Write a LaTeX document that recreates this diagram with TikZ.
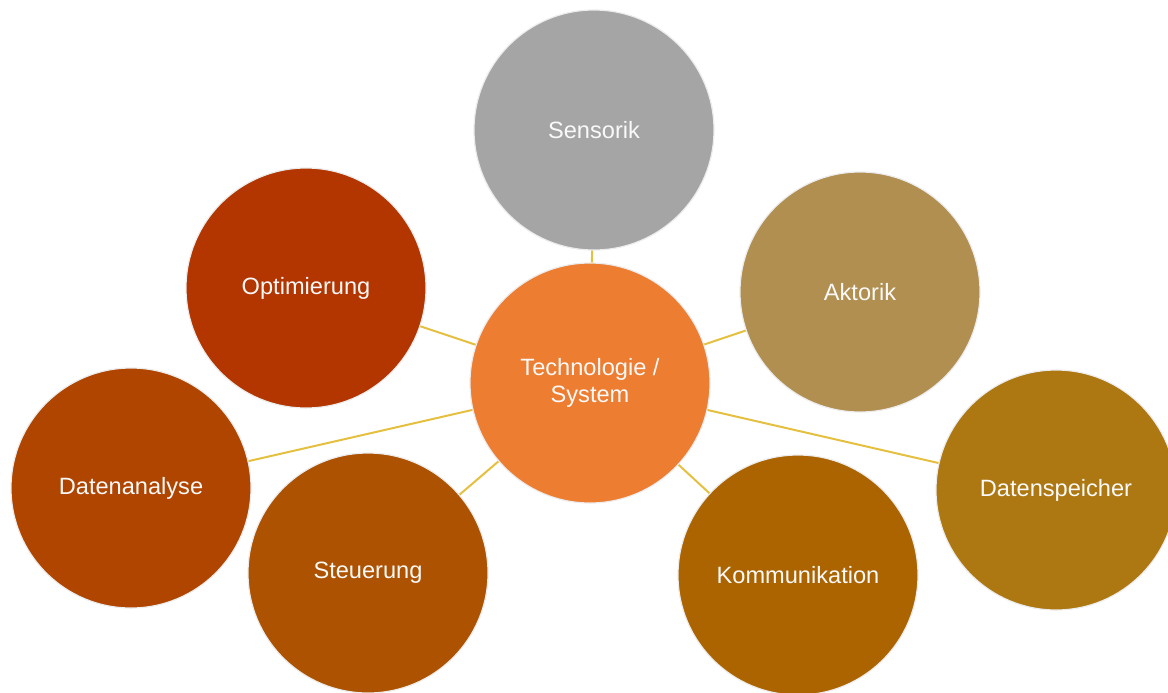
\documentclass[tikz,border=0pt]{standalone}
\usepackage{fontspec}
\setmainfont{Liberation Sans}
\usetikzlibrary{backgrounds}

\definecolor{coreorange}{HTML}{ED7D31}
\definecolor{sensgray}{HTML}{A5A5A5}
\definecolor{aktbrown}{HTML}{B08F50}
\definecolor{speichgold}{HTML}{AD7811}
\definecolor{kommbrown}{HTML}{AB6400}
\definecolor{steuerbrown}{HTML}{AD5200}
\definecolor{analysered}{HTML}{B04500}
\definecolor{optired}{HTML}{B33500}
\definecolor{linkyellow}{HTML}{E5C040}

\begin{document}
\begin{tikzpicture}[x=0.5pt, y=-0.5pt, main node/.style={circle, draw=white!85!gray, line width=0.6pt, minimum size=120pt, inner sep=0pt, text=white!95!gray, font=\fontsize{11.8}{13.5}\selectfont, align=center}, link/.style={draw=linkyellow, line width=1pt}]
\useasboundingbox (0,0) rectangle (1168,692);
\node[main node, fill=coreorange] (core) at (590,383) {Technologie /\\System};
\node[main node, fill=sensgray] (sens) at (594,130) {Sensorik};
\node[main node, fill=aktbrown] (akt) at (860,292) {Aktorik};
\node[main node, fill=speichgold] (speich) at (1056,490) {Datenspeicher};
\node[main node, fill=kommbrown] (komm) at (798,575) {Kommunikation};
\node[main node, fill=steuerbrown] (steuer) at (368,573) {Steuerung};
\node[main node, fill=analysered] (analyse) at (131,488) {Datenanalyse};
\node[main node, fill=optired] (opti) at (306,288) {Optimierung};
\begin{scope}[on background layer]
    \foreach \n in {sens, akt, speich, komm, steuer, analyse, opti}
        \draw[link] (core.center) -- (\n.center);
\end{scope}
\end{tikzpicture}
\end{document}
